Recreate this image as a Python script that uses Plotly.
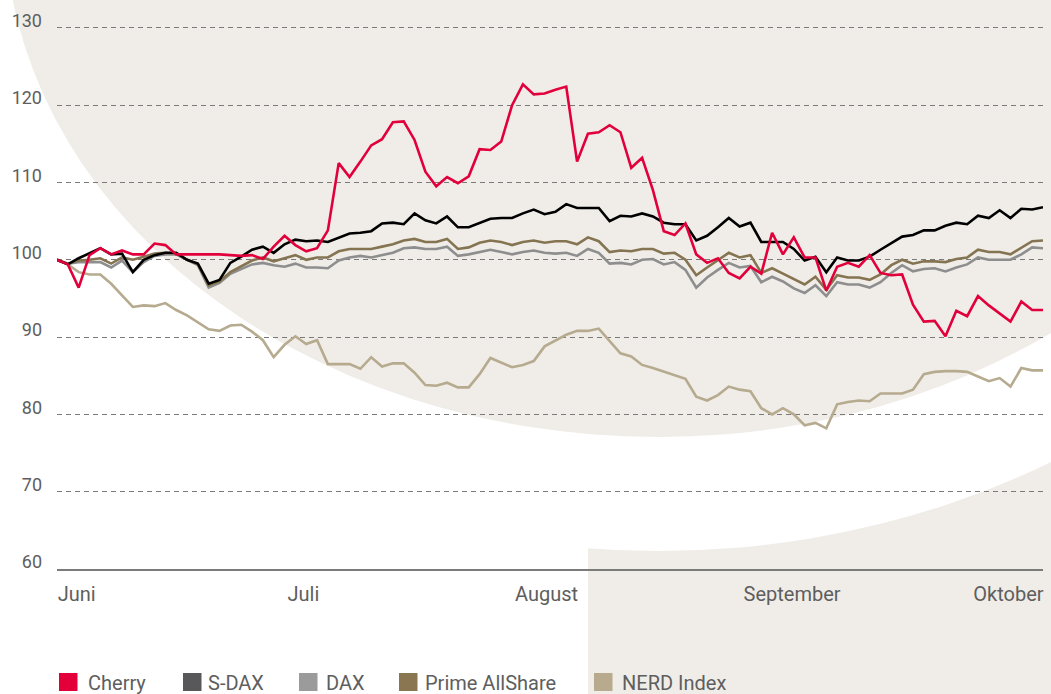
import plotly.graph_objects as go

# ---------------- data ----------------
series_names = ["Cherry", "S-DAX", "DAX", "Prime AllShare", "NERD Index"]

cherry = [100.0, 99.4, 96.4, 100.6, 101.5, 100.7, 101.2, 100.7, 100.7, 102.1,
          101.9, 100.7, 100.7, 100.7, 100.7, 100.7, 100.6, 100.5, 100.6, 100.1,
          101.7, 103.1, 101.9, 101.1, 101.5, 103.8, 112.5, 110.7, 112.7, 114.8,
          115.6, 117.8, 117.9, 115.5, 111.4, 109.5, 110.7, 109.9, 110.8, 114.3,
          114.2, 115.3, 120.0, 122.7, 121.4, 121.5, 122.0, 122.4, 112.7, 116.3,
          116.5, 117.4, 116.5, 111.9, 113.2, 109.0, 103.7, 103.2, 104.7, 100.7,
          99.6, 100.2, 98.3, 97.6, 99.1, 98.2, 103.5, 100.7, 102.9, 100.3,
          100.3, 96.0, 99.1, 99.6, 99.1, 100.6, 98.3, 98.0, 98.1, 94.2,
          92.0, 92.1, 90.1, 93.4, 92.7, 95.3, 94.1, 93.1, 92.0, 94.6,
          93.5, 93.5]

sdax = [100.0, 99.4, 100.2, 100.9, 101.5, 100.7, 100.8, 98.4, 100.0, 100.6,
        100.9, 100.9, 100.0, 99.5, 96.9, 97.4, 99.6, 100.4, 101.3, 101.7,
        100.9, 102.0, 102.6, 102.4, 102.5, 102.3, 102.9, 103.4, 103.5, 103.7,
        104.7, 104.8, 104.6, 106.0, 105.1, 104.7, 105.6, 104.2, 104.2, 104.8,
        105.3, 105.4, 105.4, 106.0, 106.5, 105.9, 106.2, 107.2, 106.7, 106.7,
        106.7, 105.0, 105.7, 105.6, 106.0, 105.6, 104.8, 104.6, 104.6, 102.5,
        103.1, 104.2, 105.4, 104.3, 104.8, 102.3, 102.3, 102.3, 101.4, 99.9,
        100.4, 98.4, 100.3, 99.9, 99.9, 100.4, 101.3, 102.1, 103.0, 103.2,
        103.8, 103.8, 104.4, 104.8, 104.6, 105.7, 105.4, 106.4, 105.4, 106.6,
        106.5, 106.8]

dax = [100.0, 99.5, 99.7, 99.7, 99.7, 99.0, 99.9, 98.4, 99.7, 100.5,
       100.7, 100.7, 100.0, 99.3, 96.4, 97.0, 98.2, 98.8, 99.4, 99.6,
       99.3, 99.1, 99.5, 99.0, 99.0, 98.9, 99.9, 100.3, 100.5, 100.3,
       100.6, 100.9, 101.5, 101.6, 101.4, 101.4, 101.7, 100.5, 100.7, 101.0,
       101.3, 101.0, 100.7, 101.0, 101.2, 100.9, 100.8, 100.9, 100.5, 101.4,
       100.9, 99.5, 99.6, 99.4, 100.0, 100.1, 99.4, 99.7, 98.7, 96.4,
       97.7, 98.7, 99.6, 99.0, 99.2, 97.1, 97.8, 97.2, 96.3, 95.7,
       96.7, 95.3, 97.1, 96.8, 96.8, 96.4, 97.1, 98.3, 99.3, 98.5,
       98.8, 98.9, 98.5, 99.0, 99.4, 100.3, 100.0, 100.0, 100.0, 100.7,
       101.6, 101.5]

prime = [100.0, 99.5, 99.9, 100.0, 100.2, 99.5, 100.3, 100.0, 100.4, 100.8,
         100.9, 100.8, 100.0, 99.4, 96.7, 97.2, 98.4, 99.2, 99.9, 100.3,
         99.8, 100.2, 100.6, 100.0, 100.3, 100.3, 101.1, 101.4, 101.4, 101.4,
         101.7, 102.0, 102.5, 102.7, 102.3, 102.3, 102.7, 101.4, 101.6, 102.2,
         102.5, 102.3, 101.9, 102.3, 102.5, 102.2, 102.4, 102.4, 102.0, 102.9,
         102.4, 101.0, 101.2, 101.1, 101.4, 101.4, 100.8, 100.9, 100.0, 98.0,
         99.0, 99.9, 100.9, 100.3, 100.6, 98.3, 98.9, 98.2, 97.5, 96.8,
         97.8, 96.1, 98.0, 97.7, 97.7, 97.4, 98.1, 99.3, 100.0, 99.5,
         99.8, 99.8, 99.7, 100.1, 100.3, 101.3, 101.0, 101.0, 100.7, 101.6,
         102.4, 102.5]

nerd = [100.0, 99.4, 98.4, 98.1, 98.1, 96.9, 95.4, 93.9, 94.1, 94.0,
        94.4, 93.5, 92.8, 91.9, 91.0, 90.8, 91.5, 91.6, 90.7, 89.6,
        87.4, 89.0, 90.1, 89.1, 89.6, 86.5, 86.5, 86.5, 85.9, 87.4,
        86.2, 86.6, 86.6, 85.4, 83.8, 83.7, 84.1, 83.5, 83.5, 85.2,
        87.3, 86.7, 86.1, 86.4, 86.9, 88.8, 89.5, 90.3, 90.8, 90.8,
        91.1, 89.5, 87.9, 87.5, 86.4, 86.0, 85.5, 85.0, 84.6, 82.3,
        81.8, 82.5, 83.6, 83.2, 83.0, 80.8, 80.0, 80.8, 80.0, 78.6,
        78.9, 78.2, 81.3, 81.6, 81.8, 81.7, 82.7, 82.7, 82.7, 83.2,
        85.2, 85.5, 85.6, 85.6, 85.5, 84.9, 84.3, 84.7, 83.6, 86.0,
        85.7, 85.7]

month_labels = ["Juni", "Juli", "August", "September", "Oktober"]
month_pos = [0, 21.2, 42.2, 63.3, 84.5]

y_ticks = [60, 70, 80, 90, 100, 110, 120, 130]

# ---------------- styles ----------------
line_colors = {"Cherry": "#E2003C", "S-DAX": "#000000", "DAX": "#8E8E8E",
               "Prime AllShare": "#857451", "NERD Index": "#B6AA8F"}
legend_colors = {"Cherry": "#E3003A", "S-DAX": "#58585A", "DAX": "#9B9B9B",
                 "Prime AllShare": "#8A7651", "NERD Index": "#B8AB8D"}
BEIGE = "#F0EDE8"
TEXT = "#5E5E5E"
FONT = "Roboto, 'Noto Sans', 'DejaVu Sans', sans-serif"

FIG_W, FIG_H = 1051, 694
L, R, T, B = 57, 8, 24, 125
PW, PH = FIG_W - L - R, FIG_H - T - B


def px(xp):
    return (xp - L) / PW


def py(yp):
    return (FIG_H - B - yp) / PH


values = {"Cherry": cherry, "S-DAX": sdax, "DAX": dax,
          "Prime AllShare": prime, "NERD Index": nerd}
x = list(range(len(cherry)))

fig = go.Figure()
for name in ["NERD Index", "DAX", "Prime AllShare", "S-DAX", "Cherry"]:
    fig.add_trace(go.Scatter(
        x=x, y=values[name], mode="lines", name=name, showlegend=False,
        line=dict(color=line_colors[name], width=2.6),
    ))

shapes = []
# lower right beige block (top cut by white ellipse)
shapes.append(dict(type="rect", xref="paper", yref="paper", layer="below",
                   x0=px(588), x1=px(1060), y0=py(430), y1=py(700),
                   fillcolor=BEIGE, line=dict(width=0)))
shapes.append(dict(type="circle", xref="paper", yref="paper", layer="below",
                   x0=px(-109), x1=px(1425), y0=py(-711), y1=py(551),
                   fillcolor="white", line=dict(width=0)))
# large beige ellipse
shapes.append(dict(type="circle", xref="paper", yref="paper", layer="below",
                   x0=px(5), x1=px(1311), y0=py(-597), y1=py(437),
                   fillcolor=BEIGE, line=dict(width=0)))

# manual legend
legend_sq_x = [59, 183, 299, 399, 594]
legend_txt_x = [86, 206, 324, 423, 620]
annotations = []
for name, sx, tx in zip(series_names, legend_sq_x, legend_txt_x):
    shapes.append(dict(type="rect", xref="paper", yref="paper",
                       x0=px(sx), x1=px(sx + 18.5), y0=py(673), y1=py(691),
                       fillcolor=legend_colors[name], line=dict(width=0)))
    annotations.append(dict(xref="paper", yref="paper", x=px(tx), y=py(683),
                            xanchor="left", yanchor="middle", showarrow=False,
                            text=name, font=dict(family=FONT, size=20, color=TEXT)))

fig.update_layout(
    width=FIG_W, height=FIG_H,
    margin=dict(l=L, r=R, t=T, b=B),
    paper_bgcolor="white", plot_bgcolor="rgba(0,0,0,0)",
    shapes=shapes, annotations=annotations,
    showlegend=False,
    font=dict(family=FONT, color=TEXT),
    xaxis=dict(range=[0, len(cherry) - 1], showgrid=False, zeroline=False,
               showline=True, linecolor="#7B7B7B", linewidth=1.5,
               tickmode="array", tickvals=month_pos, ticktext=month_labels,
               ticks="", ticklabelposition="outside right",
               ticklabelstandoff=6,
               tickfont=dict(family=FONT, size=20, color=TEXT)),
    yaxis=dict(range=[60, 130.5], tickmode="array", tickvals=y_ticks,
               showgrid=True, gridcolor="#7A7A7A", gridwidth=1,
               griddash="5px,4px", zeroline=False, showline=False,
               ticks="", ticklabelstandoff=14, ticklabelshift=-7,
               tickfont=dict(family=FONT, size=18, color=TEXT)),
)

fig.write_html("out.html",
               config={"displayModeBar": False},
               post_script="document.body.style.margin='0';"
                           "document.body.style.overflow='hidden';")
